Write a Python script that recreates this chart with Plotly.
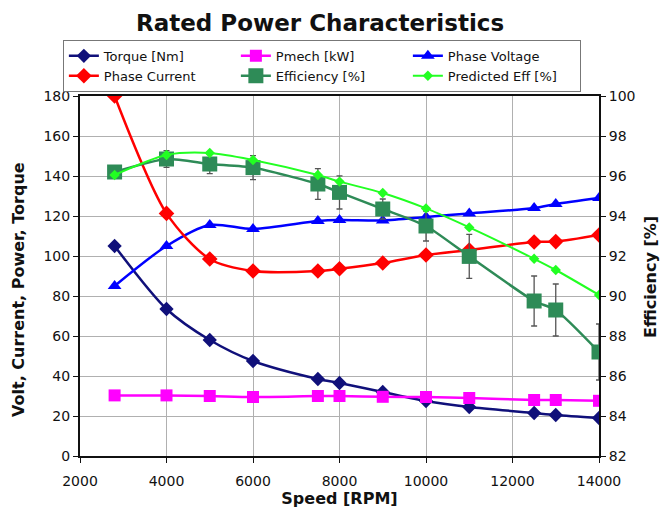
import plotly.graph_objects as go

# Motor test results at rated power
speed_rpm = [2800, 4000, 5000, 6000, 7500, 8000, 9000, 10000, 11000, 12500, 13000, 14000]
torque_nm = [105, 73.5, 58, 47.5, 38.5, 36.5, 32, 27.5, 24.5, 21.5, 20.5, 19]
pmech_kw = [30.3, 30.3, 30, 29.5, 30, 30, 29.6, 29.5, 29, 28, 28, 27.6]
phase_voltage = [85, 105, 115.5, 113.5, 117.5, 118, 117.8, 119.5, 121.3, 124, 126, 129]
phase_current = [180, 121.3, 98.5, 92.5, 92.5, 93.6, 96.5, 100.5, 103, 107, 107.2, 110.5]
efficiency_pct = [96.2, 96.85, 96.6, 96.42, 95.6, 95.18, 94.35, 93.5, 91.98, 89.75, 89.3, 87.2]
efficiency_err = [0.25, 0.42, 0.48, 0.6, 0.77, 0.83, 0.5, 0.75, 1.1, 1.25, 1.3, 1.4]
predicted_eff_pct = [96.05, 97.05, 97.15, 96.8, 96.05, 95.72, 95.15, 94.38, 93.43, 91.86, 91.3, 90.05]

left_ticks = list(range(0, 181, 20))
right_ticks = list(range(82, 101, 2))
x_ticks = list(range(2000, 14001, 2000))
x_tick_labels = [str(v) for v in x_ticks]

FONT = "DejaVu Sans"

fig = go.Figure()

fig.add_trace(go.Scatter(
    x=speed_rpm, y=torque_nm, name="Torque [Nm]", mode="lines+markers",
    line=dict(color="#10107a", width=2.5, shape="spline", smoothing=0.8),
    marker=dict(symbol="diamond", size=11, color="#10107a"),
))
fig.add_trace(go.Scatter(
    x=speed_rpm, y=pmech_kw, name="Pmech [kW]", mode="lines+markers",
    line=dict(color="#ff00ff", width=2.5, shape="spline", smoothing=0.8),
    marker=dict(symbol="square", size=12, color="#ff00ff"),
))
fig.add_trace(go.Scatter(
    x=speed_rpm, y=phase_voltage, name="Phase Voltage", mode="lines+markers",
    line=dict(color="#0000ff", width=2.5, shape="spline", smoothing=0.8),
    marker=dict(symbol="triangle-up", size=12, color="#0000ff"),
))
fig.add_trace(go.Scatter(
    x=speed_rpm, y=phase_current, name="Phase Current", mode="lines+markers",
    line=dict(color="#ff0000", width=2.5, shape="spline", smoothing=0.8),
    marker=dict(symbol="diamond", size=12, color="#ff0000"),
))
fig.add_trace(go.Scatter(
    x=speed_rpm, y=efficiency_pct, name="Efficiency [%]", mode="lines+markers",
    yaxis="y2",
    line=dict(color="#2e8b57", width=2.5, shape="spline", smoothing=0.6),
    marker=dict(symbol="square", size=15, color="#2e8b57"),
    error_y=dict(type="data", array=efficiency_err, visible=True,
                 color="#555555", thickness=1.3, width=3),
))
fig.add_trace(go.Scatter(
    x=speed_rpm, y=predicted_eff_pct, name="Predicted Eff [%]", mode="lines+markers",
    yaxis="y2",
    line=dict(color="#22ff22", width=2, shape="spline", smoothing=0.8),
    marker=dict(symbol="diamond", size=8, color="#22ff22"),
))

axis_font = dict(family=FONT, size=14, color="#111111")
title_font = dict(family=FONT, size=16, color="#111111")

fig.update_layout(
    width=660, height=515,
    margin=dict(l=80, r=61, t=96, b=59),
    paper_bgcolor="white", plot_bgcolor="white",
    font=dict(family=FONT, color="#111111"),
    title=dict(text="<b>Rated Power Characteristics</b>", x=0.485, xanchor="center",
               y=0.956, yanchor="middle", font=dict(family=FONT, size=23, color="#111111")),
    xaxis=dict(
        range=[2000, 14000], tickvals=x_ticks, ticktext=x_tick_labels, tickfont=axis_font,
        ticklabelstandoff=6,
        title=dict(text="<b>Speed [RPM]</b>", font=title_font, standoff=2),
        showgrid=True, gridcolor="#b0b0b0", gridwidth=1,
        showline=True, linecolor="#111111", linewidth=2, mirror=True,
        ticks="outside", ticklen=5, tickcolor="#111111", zeroline=False,
    ),
    yaxis=dict(
        range=[0, 180], tickvals=left_ticks, tickfont=axis_font,
        showgrid=True, gridcolor="#b0b0b0", gridwidth=1,
        showline=True, linecolor="#111111", linewidth=2,
        ticks="outside", ticklen=5, tickcolor="#111111", zeroline=False,
    ),
    yaxis2=dict(
        range=[82, 100], tickvals=right_ticks, tickfont=axis_font,
        overlaying="y", side="right", showgrid=False,
        showline=True, linecolor="#111111", linewidth=2,
        ticks="outside", ticklen=5, tickcolor="#111111", zeroline=False,
    ),
    legend=dict(
        orientation="h", x=-0.033, xanchor="left", y=1.156, yanchor="top",
        entrywidth=127, entrywidthmode="pixels",
        bordercolor="#777777", borderwidth=1, bgcolor="white",
        font=dict(family=FONT, size=13, color="#111111"),
        tracegroupgap=0, itemwidth=30,
    ),
    annotations=[
        dict(text="<b>Volt, Current, Power, Torque</b>", textangle=-90,
             xref="paper", yref="paper", x=(18 - 80) / 519, y=(456 - 290) / 360,
             xanchor="center", yanchor="middle", showarrow=False, font=title_font),
        dict(text="<b>Efficiency [%]</b>", textangle=-90,
             xref="paper", yref="paper", x=(650 - 80) / 519, y=(456 - 277) / 360,
             xanchor="center", yanchor="middle", showarrow=False, font=title_font),
    ],
    showlegend=True,
)

fig.write_html("out.html")
